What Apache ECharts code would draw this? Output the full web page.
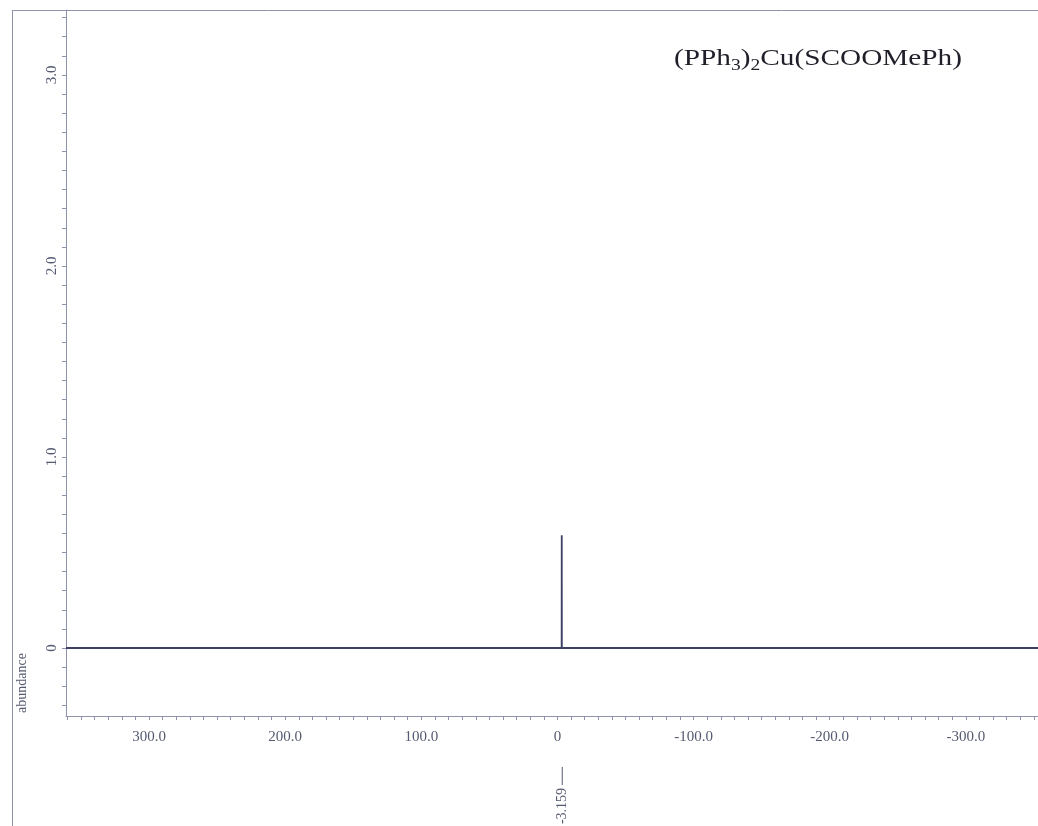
<!DOCTYPE html>
<html>
<head>
<meta charset="utf-8">
<title>31P NMR spectrum</title>
<script src="https://cdn.jsdelivr.net/npm/echarts@6/dist/echarts.min.js"></script>
<style>
  html, body { margin: 0; padding: 0; background: #ffffff; }
  #chart { width: 1038px; height: 826px; }
</style>
</head>
<body>
<div id="chart"></div>
<script>
// Chemical shift (ppm) and abundance of the spectrum trace
const shiftPpm  = [361, -3.10, -3.159, -3.22, -353];
const abundance = [0,    0,     0.59,   0,     0];

// Axis ranges and labelled ticks
const shiftRange = { min: -353, max: 361 };
const abundanceRange = { min: -0.356, max: 3.34 };
const shiftLabels = [300, 200, 100, 0, -100, -200, -300];
const abundanceLabels = [0, 1, 2, 3];

// Peak annotation
const peakShift = -3.159;
const peakText = '-3.159';
const compoundRich = ['(PPh', '3', ')', '2', 'Cu(SCOOMePh)'];

// Minor tick positions (every 10 ppm, every 0.1 abundance)
const shiftTicks = [];
for (let v = -350; v <= 360; v += 10) shiftTicks.push(v);
const abundanceTicks = [];
for (let i = -3; i <= 33; i++) abundanceTicks.push(i / 10);

const axisColor = '#8e93ab';
const textColor = '#555a70';
const traceColor = '#3d4062';
const serif = '"Liberation Serif", "DejaVu Serif", serif';

const fmt = v => (Math.abs(v) < 1e-9 ? '0' : Number(v).toFixed(1));

const chart = echarts.init(document.getElementById('chart'), null, { renderer: 'canvas' });

chart.setOption({
  animation: false,
  backgroundColor: '#ffffff',
  grid: { left: 66, right: 0, top: 10, bottom: 110, containLabel: false },
  xAxis: {
    type: 'value',
    inverse: true,
    min: shiftRange.min,
    max: shiftRange.max,
    axisLine: { show: true, onZero: false, lineStyle: { color: axisColor, width: 1 } },
    axisTick: { show: true, customValues: shiftTicks, length: 4, lineStyle: { color: axisColor } },
    axisLabel: {
      customValues: shiftLabels,
      formatter: fmt,
      color: textColor,
      fontFamily: serif,
      fontSize: 15,
      margin: 14
    },
    splitLine: { show: false }
  },
  yAxis: {
    type: 'value',
    min: abundanceRange.min,
    max: abundanceRange.max,
    axisLine: { show: true, onZero: false, lineStyle: { color: axisColor, width: 1 } },
    axisTick: { show: true, customValues: abundanceTicks, length: 4, lineStyle: { color: axisColor } },
    axisLabel: {
      customValues: abundanceLabels,
      formatter: fmt,
      rotate: 90,
      color: textColor,
      fontFamily: serif,
      fontSize: 15,
      margin: 6
    },
    splitLine: { show: false }
  },
  series: [{
    type: 'line',
    data: shiftPpm.map((x, i) => [x, abundance[i]]),
    showSymbol: false,
    lineStyle: { color: traceColor, width: 1.8 },
    silent: true
  }]
});

// Frame, axis caption, compound name and peak annotation
const peakPx = chart.convertToPixel({ gridIndex: 0 }, [peakShift, 0]);
chart.setOption({
  graphic: [
    { type: 'line', shape: { x1: 12, y1: 10.5, x2: 1038, y2: 10.5 }, style: { stroke: axisColor, lineWidth: 1 } },
    { type: 'line', shape: { x1: 12.5, y1: 10, x2: 12.5, y2: 826 }, style: { stroke: axisColor, lineWidth: 1 } },
    {
      type: 'text', x: 22, y: 683, rotation: Math.PI / 2,
      style: { text: 'abundance', fill: textColor, font: '14px ' + serif, align: 'center', verticalAlign: 'middle' }
    },
    {
      type: 'text', x: 818, y: 59, scaleX: 1.22,
      style: {
        text: '{a|' + compoundRich[0] + '}{s|' + compoundRich[1] + '}{a|' + compoundRich[2] + '}{s|' + compoundRich[3] + '}{a|' + compoundRich[4] + '}',
        align: 'center', verticalAlign: 'middle',
        rich: {
          a: { fontFamily: serif, fontSize: 24, fill: '#1f1f2a', color: '#1f1f2a' },
          s: { fontFamily: serif, fontSize: 16, fill: '#1f1f2a', color: '#1f1f2a', padding: [14, 0, 0, 0] }
        }
      }
    },
    { type: 'line', shape: { x1: peakPx[0] + 0.5, y1: 767, x2: peakPx[0] + 0.5, y2: 785 }, style: { stroke: textColor, lineWidth: 1 } },
    {
      type: 'text', x: peakPx[0] + 1, y: 806, rotation: Math.PI / 2,
      style: { text: peakText, fill: textColor, font: '14px ' + serif, align: 'center', verticalAlign: 'middle' }
    }
  ]
});
</script>
</body>
</html>
